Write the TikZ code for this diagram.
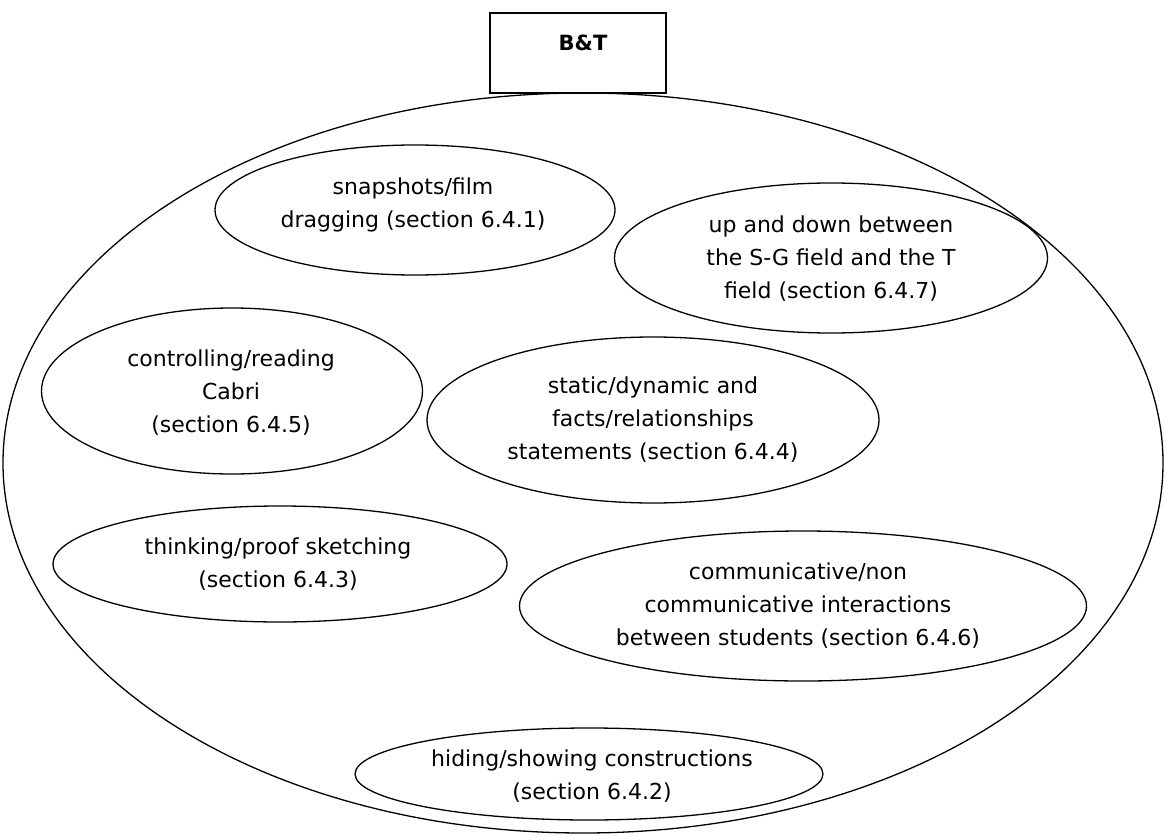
\documentclass[tikz,border=0pt]{standalone}
\usepackage{fontspec}
\setmainfont{DejaVu Sans}
\usetikzlibrary{shapes.geometric}
\begin{document}
\begin{tikzpicture}[x=1pt,y=-1pt,
  bubble/.style={draw,ellipse,line width=1.3pt,inner sep=0pt},
  lbl/.style={align=center,font=\fontsize{22}{33}\selectfont,inner sep=0pt}]
\useasboundingbox (0,0) rectangle (1166,837);
\node[draw,line width=1.3pt,minimum width=176pt,minimum height=80pt] (bt) at (578,53) {};
\node[font=\fontsize{21}{24}\selectfont\bfseries,inner sep=0pt] (btt) at (583,43) {B\&T};
\node[bubble,minimum width=1160pt,minimum height=740pt] (outer) at (583,463) {};
\node[bubble,minimum width=400pt,minimum height=130pt] (e1) at (415,210) {};
\node[lbl] (t1) at (413,205) {snapshots/film\\dragging (section 6.4.1)};
\node[bubble,minimum width=433pt,minimum height=150pt] (e2) at (831,258) {};
\node[lbl] (t2) at (831,259) {up and down between\\the S-G field and the T\\field (section 6.4.7)};
\node[bubble,minimum width=381pt,minimum height=166pt] (e3) at (232,391) {};
\node[lbl] (t3) at (231,393) {controlling/reading\\Cabri\\(section 6.4.5)};
\node[bubble,minimum width=452pt,minimum height=166pt] (e4) at (653,420) {};
\node[lbl] (t4) at (653,420) {static/dynamic and\\facts/relationships\\statements (section 6.4.4)};
\node[bubble,minimum width=454pt,minimum height=116pt] (e5) at (280,564) {};
\node[lbl] (t5) at (278,564) {thinking/proof sketching\\(section 6.4.3)};
\node[bubble,minimum width=567pt,minimum height=150pt] (e6) at (803,606) {};
\node[lbl] (t6) at (798,606) {communicative/non\\communicative interactions\\between students (section 6.4.6)};
\node[bubble,minimum width=468pt,minimum height=92pt] (e7) at (589,774) {};
\node[lbl] (t7) at (592,776) {hiding/showing constructions\\(section 6.4.2)};
\end{tikzpicture}
\end{document}
